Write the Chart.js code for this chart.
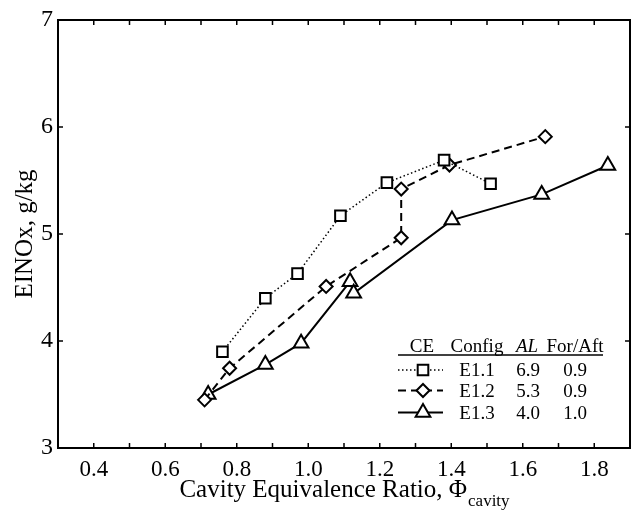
<!DOCTYPE html>
<html><head><meta charset="utf-8">
<script src="https://cdn.jsdelivr.net/npm/chart.js@4/dist/chart.umd.min.js"></script>
<style>html,body{margin:0;padding:0;background:#fff;overflow:hidden}#wrap{width:631px;height:511px;position:relative}canvas{display:block}</style>
</head><body><div id="wrap"><canvas id="c" width="631" height="511"></canvas></div>
<script>
// ---- data ----
const xTickLabels = ['0.4','0.6','0.8','1.0','1.2','1.4','1.6','1.8'];
const yTickLabels = ['3','4','5','6','7'];
const e11x = [0.76, 0.88, 0.97, 1.09, 1.22, 1.38, 1.51];
const e11y = [3.90, 4.40, 4.63, 5.17, 5.48, 5.69, 5.47];
const e12x = [0.71, 0.78, 1.05, 1.26, 1.26, 1.395, 1.663];
const e12y = [3.45, 3.745, 4.51, 4.965, 5.42, 5.645, 5.91];
const e13x = [0.72, 0.88, 0.98, 1.117, 1.127, 1.402, 1.653, 1.838];
const e13y = [3.50, 3.78, 3.98, 4.554, 4.446, 5.13, 5.37, 5.64];
const seriesNames = ['E1.1', 'E1.2', 'E1.3'];
const alValues = ['6.9', '5.3', '4.0'];
const forAftValues = ['0.9', '0.9', '1.0'];
const legendHeader = ['CE', 'Config', 'AL', 'For/Aft'];

const SERIF = '"Liberation Serif", "Times New Roman", serif';
const pts = (xs, ys) => xs.map((x, i) => ({x: x, y: ys[i]}));

const styles = [
  {pointStyle: 'rect', radius: 7.5, dash: [1.5, 2.5], width: 1.5},
  {pointStyle: 'rectRot', radius: 6.5, dash: [8, 5], width: 2},
  {pointStyle: 'triangle', radius: 8.5, dash: [], width: 2}
];
const seriesData = [pts(e11x, e11y), pts(e12x, e12y), pts(e13x, e13y)];

const datasets = seriesData.map((d, i) => ({
  label: seriesNames[i],
  data: d,
  borderColor: '#000',
  borderWidth: styles[i].width,
  borderDash: styles[i].dash,
  pointStyle: styles[i].pointStyle,
  pointRadius: styles[i].radius,
  pointBackgroundColor: '#fff',
  pointBorderColor: '#000',
  pointBorderWidth: 2,
  tension: 0,
  fill: false,
  clip: false
}));

function drawMarker(ctx, style, radius, x, y) {
  ctx.save();
  ctx.fillStyle = '#fff';
  ctx.strokeStyle = '#000';
  ctx.lineWidth = 2;
  ctx.setLineDash([]);
  if (Chart.helpers && Chart.helpers.drawPoint) {
    Chart.helpers.drawPoint(ctx, {pointStyle: style, radius: radius, rotation: 0, borderWidth: 2}, x, y);
  } else {
    ctx.beginPath();
    if (style === 'rect') { const s = radius * Math.SQRT1_2; ctx.rect(x - s, y - s, 2 * s, 2 * s); }
    else if (style === 'rectRot') { ctx.moveTo(x - radius, y); ctx.lineTo(x, y - radius); ctx.lineTo(x + radius, y); ctx.lineTo(x, y + radius); ctx.closePath(); }
    else { for (let k = 0; k < 3; k++) { const a = k * 2 * Math.PI / 3; const px = x + Math.sin(a) * radius, py = y - Math.cos(a) * radius; k ? ctx.lineTo(px, py) : ctx.moveTo(px, py); } ctx.closePath(); }
    ctx.fill(); ctx.stroke();
  }
  ctx.restore();
}

const decor = {
  id: 'decor',
  afterDraw(chart) {
    const {ctx, chartArea: a, scales: {x, y}} = chart;
    ctx.save();
    ctx.strokeStyle = '#000';
    ctx.fillStyle = '#000';
    // ticks (inward, all four sides)
    ctx.lineWidth = 1.5;
    const tl = 5;
    x.ticks.forEach(t => {
      const px = x.getPixelForValue(t.value);
      if (px <= a.left + 1 || px >= a.right - 1) return;
      ctx.beginPath();
      ctx.moveTo(px, a.bottom); ctx.lineTo(px, a.bottom - tl);
      ctx.moveTo(px, a.top); ctx.lineTo(px, a.top + tl);
      ctx.stroke();
    });
    y.ticks.forEach(t => {
      const py = y.getPixelForValue(t.value);
      if (py <= a.top + 1 || py >= a.bottom - 1) return;
      ctx.beginPath();
      ctx.moveTo(a.left, py); ctx.lineTo(a.left + tl, py);
      ctx.moveTo(a.right, py); ctx.lineTo(a.right - tl, py);
      ctx.stroke();
    });
    // frame
    ctx.lineWidth = 2;
    ctx.strokeRect(a.left, a.top, a.right - a.left, a.bottom - a.top);

    // axis titles
    ctx.font = '25px ' + SERIF;
    ctx.textBaseline = 'alphabetic';
    const main = 'Cavity Equivalence Ratio, \u03A6';
    const sub = 'cavity';
    const mw = ctx.measureText(main).width;
    ctx.font = '17px ' + SERIF;
    const sw = ctx.measureText(sub).width;
    const cx = (a.left + a.right) / 2;
    const sx = cx - (mw + sw) / 2;
    ctx.font = '25px ' + SERIF;
    ctx.textAlign = 'left';
    ctx.fillText(main, sx, a.bottom + 49);
    ctx.font = '17px ' + SERIF;
    ctx.fillText(sub, sx + mw + 1, a.bottom + 58);

    ctx.save();
    ctx.translate(a.left - 26, (a.top + a.bottom) / 2);
    ctx.rotate(-Math.PI / 2);
    ctx.font = '25px ' + SERIF;
    ctx.textAlign = 'center';
    ctx.fillText('EINOx, g/kg', 0, 0);
    ctx.restore();

    // table legend
    const L = a.right - 232;      // left of line sample
    const colCE = a.right - 208;
    const colCfg = a.right - 153;
    const colAL = a.right - 103;
    const colFA = a.right - 55;
    const hdrY = a.bottom - 96;
    ctx.textAlign = 'center';
    ctx.font = '19px ' + SERIF;
    ctx.fillText(legendHeader[0], colCE, hdrY);
    ctx.fillText(legendHeader[1], colCfg, hdrY);
    ctx.font = 'italic 19px ' + SERIF;
    ctx.fillText(legendHeader[2], colAL, hdrY);
    ctx.font = '19px ' + SERIF;
    ctx.fillText(legendHeader[3], colFA, hdrY);
    ctx.lineWidth = 1.5;
    ctx.beginPath();
    ctx.moveTo(L, hdrY + 3); ctx.lineTo(a.right - 27, hdrY + 3);
    ctx.stroke();
    const rowMid = [a.bottom - 78, a.bottom - 57.5, a.bottom - 35.5];
    for (let i = 0; i < 3; i++) {
      const my = rowMid[i];
      ctx.save();
      ctx.lineWidth = styles[i].width;
      ctx.setLineDash(styles[i].dash);
      ctx.beginPath();
      ctx.moveTo(L, my); ctx.lineTo(L + 45, my);
      ctx.stroke();
      ctx.restore();
      drawMarker(ctx, styles[i].pointStyle, styles[i].radius, colCE + 1, my);
      ctx.font = '19px ' + SERIF;
      ctx.fillStyle = '#000';
      ctx.textAlign = 'center';
      ctx.fillText(seriesNames[i], colCfg, my + 6);
      ctx.fillText(alValues[i], colAL + 1, my + 6);
      ctx.fillText(forAftValues[i], colFA, my + 6);
    }
    ctx.restore();
  }
};

new Chart(document.getElementById('c'), {
  type: 'line',
  data: {datasets: datasets},
  plugins: [decor],
  options: {
    responsive: false,
    animation: false,
    events: [],
    layout: {autoPadding: false, padding: {top: 20, right: 1, left: 0, bottom: 0}},
    plugins: {legend: {display: false}, tooltip: {enabled: false}},
    scales: {
      x: {
        type: 'linear', min: 0.3, max: 1.9,
        grid: {display: false, drawTicks: true, tickLength: 8},
        border: {display: false},
        ticks: {
          stepSize: 0.1, autoSkip: false, maxRotation: 0, padding: 0,
          color: '#000', font: {family: SERIF, size: 23},
          callback: v => { const s = (Math.round(v * 10) / 10).toFixed(1); return xTickLabels.includes(s) ? s : ''; }
        },
        afterFit: s => { s.height = 63; s.paddingLeft = 0; s.paddingRight = 0; }
      },
      y: {
        type: 'linear', min: 3, max: 7,
        grid: {display: false, drawTicks: false},
        border: {display: false},
        ticks: {
          stepSize: 1, padding: 5, color: '#000', font: {family: SERIF, size: 24},
          callback: v => { const s = String(Math.round(v)); return yTickLabels.includes(s) ? s : ''; }
        },
        afterFit: s => { s.width = 58; s.paddingTop = 0; s.paddingBottom = 0; }
      }
    }
  }
});
</script>
</body></html>
